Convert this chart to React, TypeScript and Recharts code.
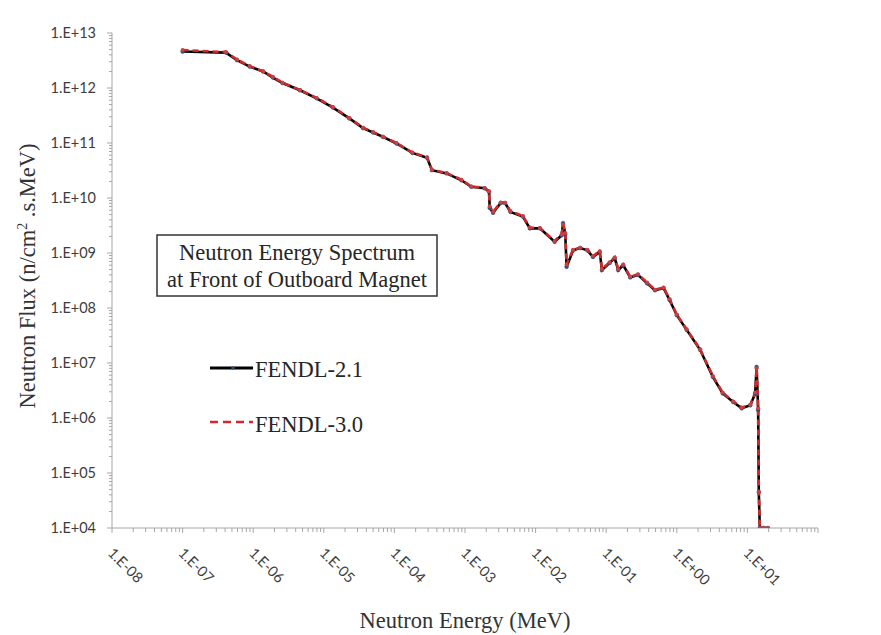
import React from 'react';
import { LineChart, Line, XAxis, YAxis } from 'recharts';

// Neutron energy (MeV)
const energies = [
  1.0e-7, 4.1e-7, 5.9e-7, 8.9e-7, 1.38e-6, 1.9e-6, 2.6e-6, 4.6e-6, 7.9e-6, 1.35e-5,
  2.3e-5, 3.6e-5, 5.0e-5, 6.9e-5, 1.07e-4, 1.8e-4, 2.9e-4, 3.4e-4, 5.5e-4, 8.9e-4,
  1.23e-3, 1.9e-3, 2.19e-3, 2.24e-3, 2.5e-3, 3.2e-3, 3.7e-3, 4.4e-3, 6.6e-3, 8.3e-3,
  1.15e-2, 1.86e-2, 2.34e-2, 2.45e-2, 2.63e-2, 2.75e-2, 3.4e-2, 4.3e-2, 5.4e-2, 6.5e-2,
  8.1e-2, 8.7e-2, 0.112, 0.132, 0.148, 0.174, 0.219, 0.282, 0.38, 0.49,
  0.65, 0.79, 1.0, 1.38, 2.14, 3.24, 4.47, 6.3, 8.3, 11.0,
  12.9, 13.5, 14.2, 14.5, 15.0, 17.0, 19.5,
];

// Neutron flux (n/cm2.s.MeV), FENDL-2.1
const fendl21 = [
  4.6e12, 4.4e12, 3.2e12, 2.45e12, 2.0e12, 1.55e12, 1.23e12, 9.1e11, 6.5e11, 4.4e11,
  2.8e11, 1.86e11, 1.55e11, 1.29e11, 9.8e10, 6.6e10, 5.4e10, 3.2e10, 2.8e10, 2.1e10,
  1.6e10, 1.5e10, 1.3e10, 6.6e9, 5.4e9, 8.1e9, 8.1e9, 5.6e9, 4.6e9, 2.8e9,
  2.8e9, 1.6e9, 2.1e9, 3.5e9, 2.2e9, 5.6e8, 1.12e9, 1.23e9, 1.12e9, 8.5e8,
  1.05e9, 4.9e8, 6.6e8, 8.1e8, 4.9e8, 6.0e8, 3.6e8, 4.0e8, 2.8e8, 2.1e8,
  2.3e8, 1.4e8, 7.4e7, 4.0e7, 1.74e7, 5.6e6, 2.8e6, 1.95e6, 1.5e6, 1.7e6,
  2.8e6, 8.5e6, 1.4e6, 4.5e4, 1.0e4, 1.0e4, 1.0e4,
];

// Neutron flux (n/cm2.s.MeV), FENDL-3.0
const fendl30 = [
  4.9e12, 4.5e12, 3.3e12, 2.5e12, 2.0e12, 1.6e12, 1.25e12, 9.2e11, 6.6e11, 4.5e11,
  2.85e11, 1.9e11, 1.58e11, 1.3e11, 1.0e11, 6.7e10, 5.5e10, 3.25e10, 2.85e10, 2.15e10,
  1.62e10, 1.52e10, 1.32e10, 7.0e9, 5.6e9, 8.3e9, 8.2e9, 5.8e9, 4.7e9, 2.9e9,
  2.85e9, 1.65e9, 2.2e9, 3.3e9, 2.3e9, 6.2e8, 1.15e9, 1.25e9, 1.15e9, 8.8e8,
  1.08e9, 5.1e8, 6.8e8, 8.3e8, 5.1e8, 6.2e8, 3.7e8, 4.1e8, 2.9e8, 2.15e8,
  2.35e8, 1.45e8, 7.6e7, 4.1e7, 1.78e7, 5.8e6, 2.9e6, 2.0e6, 1.55e6, 1.75e6,
  2.9e6, 8.0e6, 1.5e6, 4.5e4, 1.0e4, 1.0e4, 1.0e4,
];

const xMajorTicks = [1e-8, 1e-7, 1e-6, 1e-5, 1e-4, 1e-3, 1e-2, 1e-1, 1e0, 1e1, 1e2];
const xTickLabels = ['1.E-08', '1.E-07', '1.E-06', '1.E-05', '1.E-04', '1.E-03', '1.E-02', '1.E-01', '1.E+00', '1.E+01', ''];
const yMajorTicks = [1e4, 1e5, 1e6, 1e7, 1e8, 1e9, 1e10, 1e11, 1e12, 1e13];
const yTickLabels = ['1.E+04', '1.E+05', '1.E+06', '1.E+07', '1.E+08', '1.E+09', '1.E+10', '1.E+11', '1.E+12', '1.E+13'];
const minorMultipliers = [2, 3, 4, 5, 6, 7, 8, 9];

const seriesNames = ['FENDL-2.1', 'FENDL-3.0'];

const data = energies.map((e, i) => ({ e, a: fendl21[i], b: fendl30[i] }));

const withMinors = (majors: number[]) => {
  const out: number[] = [];
  majors.forEach((m, i) => {
    out.push(m);
    if (i < majors.length - 1) minorMultipliers.forEach((k) => out.push(m * k));
  });
  return out;
};
const xTicks = withMinors(xMajorTicks);
const yTicks = withMinors(yMajorTicks);

const findMajor = (majors: number[], v: number) =>
  majors.findIndex((m) => Math.abs(Math.log10(v / m)) < 1e-6);

const AXIS_COLOR = '#a6a6a6';
const LABEL_COLOR = '#3d3d3d';
const TICK_FONT = 'Lato, "Open Sans", sans-serif';
const SERIF = '"Liberation Serif", "Times New Roman", serif';

const XTick = (props: any) => {
  const { x, y, payload } = props;
  const idx = findMajor(xMajorTicks, payload.value);
  const major = idx >= 0;
  const label = major ? xTickLabels[idx] : '';
  return (
    <g>
      <line x1={x} x2={x} y1={y} y2={y + (major ? 5 : 4)} stroke={AXIS_COLOR} strokeWidth={1} />
      {label ? (
        <text
          transform={`translate(${x - 5},${y + 26}) rotate(45)`}
          fontFamily={TICK_FONT}
          fontSize={14.5}
          fill={LABEL_COLOR}
          textAnchor="start"
        >
          {label}
        </text>
      ) : null}
    </g>
  );
};

const YTick = (props: any) => {
  const { x, y, payload } = props;
  const idx = findMajor(yMajorTicks, payload.value);
  const major = idx >= 0;
  return (
    <g>
      <line x1={x - (major ? 5 : 3)} x2={x} y1={y} y2={y} stroke={AXIS_COLOR} strokeWidth={1} />
      {major ? (
        <text x={x - 16} y={y + 5} fontFamily={TICK_FONT} fontSize={14.5} fill={LABEL_COLOR} textAnchor="end">
          {yTickLabels[idx]}
        </text>
      ) : null}
    </g>
  );
};

export default function App() {
  return (
    <div
      style={{
        position: 'relative',
        marginLeft: -8,
        marginTop: -8,
        width: 881,
        height: 635,
        overflow: 'hidden',
        background: '#fff',
      }}
    >
      <div
        style={{
          position: 'absolute',
          left: 6,
          top: 6,
          width: 1000,
          height: 1000,
          borderTop: '2px solid #4a4a4a',
          borderLeft: '2px solid #4a4a4a',
        }}
      />
      <div style={{ position: 'absolute', left: 0, top: 0 }}>
        <LineChart width={881} height={635} data={data} margin={{ top: 33, right: 63, bottom: 0, left: 0 }}>
          <XAxis
            dataKey="e"
            type="number"
            scale="log"
            domain={[1e-8, 1e2]}
            allowDataOverflow
            ticks={xTicks}
            interval={0}
            tick={<XTick />}
            tickLine={false}
            tickSize={0}
            tickMargin={0}
            height={107}
            axisLine={{ stroke: AXIS_COLOR, strokeWidth: 1 }}
          />
          <YAxis
            type="number"
            scale="log"
            domain={[1e4, 1e13]}
            allowDataOverflow
            ticks={yTicks}
            interval={0}
            tick={<YTick />}
            tickLine={false}
            tickSize={0}
            tickMargin={0}
            width={112}
            axisLine={{ stroke: AXIS_COLOR, strokeWidth: 1 }}
          />
          <Line
            dataKey="a"
            name={seriesNames[0]}
            type="linear"
            stroke="#000000"
            strokeWidth={2.6}
            dot={{ r: 1.9, fill: '#2b4c7e', stroke: '#2b4c7e', strokeWidth: 0.5 }}
            isAnimationActive={false}
          />
          <Line
            dataKey="b"
            name={seriesNames[1]}
            type="linear"
            stroke="#d02b2b"
            strokeWidth={2.6}
            strokeDasharray="6 4"
            dot={{ r: 2, fill: '#cc4040', stroke: 'none' }}
            isAnimationActive={false}
          />
        </LineChart>
      </div>
      <svg
        width={881}
        height={635}
        style={{ position: 'absolute', left: 0, top: 0, pointerEvents: 'none' }}
      >
        {/* title box */}
        <rect x={157} y={235} width={280} height={61} fill="#fff" stroke="#333" strokeWidth={1.5} />
        <text x={297} y={260} textAnchor="middle" fontFamily={SERIF} fontSize={22.5} fill="#262626">
          Neutron Energy Spectrum
        </text>
        <text x={297} y={287} textAnchor="middle" fontFamily={SERIF} fontSize={22.5} fill="#262626">
          at Front of Outboard Magnet
        </text>
        {/* legend */}
        <line x1={210} x2={253} y1={368} y2={368} stroke="#000" strokeWidth={3} />
        <circle cx={233} cy={368} r={1.8} fill="#2b4c7e" />
        <text x={255} y={377} fontFamily={SERIF} fontSize={22.5} fill="#262626">
          {seriesNames[0]}
        </text>
        <line x1={210} x2={253} y1={422} y2={422} stroke="#d02b2b" strokeWidth={2.5} strokeDasharray="8 5" />
        <text x={255} y={432} fontFamily={SERIF} fontSize={22.5} fill="#262626">
          {seriesNames[1]}
        </text>
        {/* axis titles */}
        <text x={465} y={628} textAnchor="middle" fontFamily={SERIF} fontSize={22.5} fill="#333">
          Neutron Energy (MeV)
        </text>
        <text
          transform="translate(35,276) rotate(-90)"
          textAnchor="middle"
          fontFamily={SERIF}
          fontSize={22.5}
          fill="#333"
        >
          Neutron Flux (n/cm
          <tspan dy={-8} fontSize={14}>2</tspan>
          <tspan dy={8}> .s.MeV)</tspan>
        </text>
      </svg>
    </div>
  );
}
